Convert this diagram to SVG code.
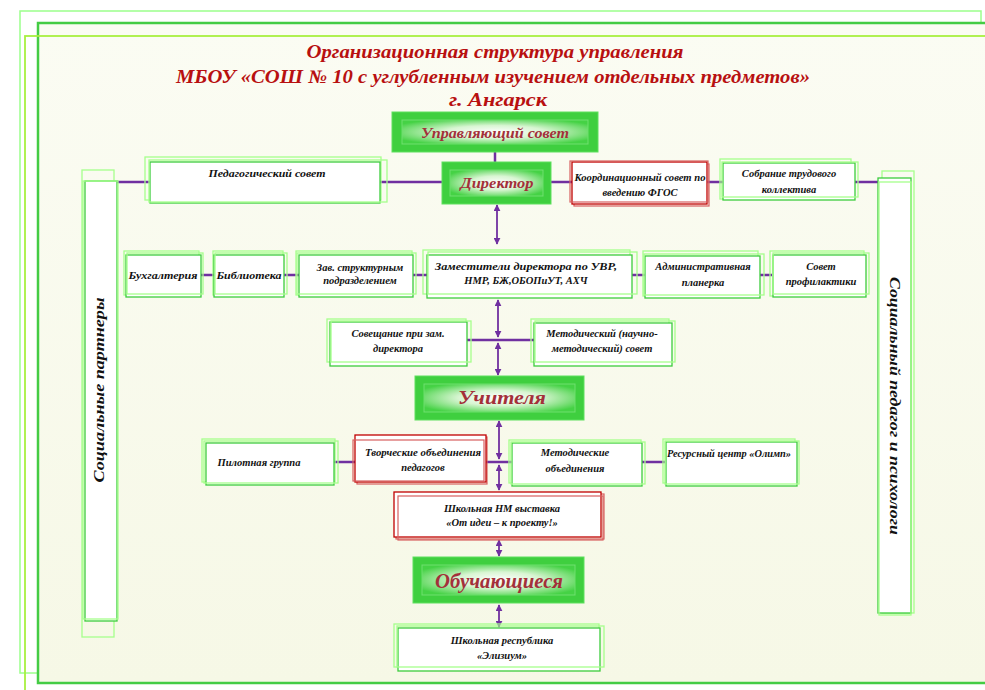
<svg xmlns="http://www.w3.org/2000/svg" width="985" height="690" viewBox="0 0 985 690">
<defs>
<linearGradient id="bg" x1="0" y1="0" x2="0" y2="1">
<stop offset="0" stop-color="#fbfcf3"/>
<stop offset="1" stop-color="#f6f8e6"/>
</linearGradient>
<radialGradient id="glow" cx="0.5" cy="0.5" r="0.6">
<stop offset="0" stop-color="#ffffff"/>
<stop offset="0.45" stop-color="#d8f5d2"/>
<stop offset="1" stop-color="#45d245"/>
</radialGradient>
<marker id="ah" viewBox="0 0 10 10" refX="9" refY="5" markerWidth="7" markerHeight="7" markerUnits="userSpaceOnUse" orient="auto-start-reverse">
<path d="M0,0 L10,5 L0,10 z" fill="#7030a0"/>
</marker>
<style>
.ln{stroke:#7030a0;stroke-width:2.5;fill:none}
.ar{stroke:#7030a0;stroke-width:1.8;fill:none;marker-start:url(#ah);marker-end:url(#ah)}
.box{fill:#ffffff;stroke:#3dcc3d;stroke-width:1.3}
.lt{fill:none;stroke:#a6ff8c;stroke-width:1.3}
.rbox{fill:#ffffff;stroke:#c00000;stroke-width:1.3}
.rlt{fill:none;stroke:#d86060;stroke-width:1.2}
.hd{fill:#3fcf3f;stroke:#5ee05e;stroke-width:1}
.hdi{fill:url(#glow);stroke:#6fe06f;stroke-width:1}
.t{font-family:"Liberation Serif","DejaVu Serif",serif;font-style:italic;font-weight:bold;font-size:10.5px;fill:#111111;text-anchor:middle}
.h{font-family:"Liberation Serif","DejaVu Serif",serif;font-style:italic;font-weight:bold;fill:#a3303a;text-anchor:middle}
.ti{font-family:"Liberation Serif","DejaVu Serif",serif;font-style:italic;font-weight:bold;font-size:19px;fill:#b81010;text-anchor:middle}
.v{font-family:"Liberation Serif","DejaVu Serif",serif;font-style:italic;font-weight:bold;font-size:15px;fill:#111111;text-anchor:middle}
</style>
</defs>

<!-- background frames -->
<rect x="0" y="0" width="985" height="690" fill="#ffffff"/>
<g id="frames">
<rect x="20" y="11" width="961" height="662" fill="none" stroke="#9cff8c" stroke-width="1.5"/>
<rect x="38" y="23" width="960" height="660" fill="url(#bg)" stroke="#44cc44" stroke-width="2.5"/>
<rect x="25" y="36" width="970" height="670" fill="none" stroke="#a8f040" stroke-width="1.8"/>
</g>

<!-- title -->
<g id="title">
<text class="ti" x="495" y="58" textLength="377" lengthAdjust="spacingAndGlyphs">Организационная структура управления</text>
<text class="ti" x="493" y="83" textLength="634" lengthAdjust="spacingAndGlyphs">МБОУ «СОШ № 10 с углубленным изучением отдельных предметов»</text>
<text class="ti" x="498" y="106" textLength="98" lengthAdjust="spacingAndGlyphs">г. Ангарск</text>
</g>

<!-- connectors -->
<g id="connectors">
<line class="ln" x1="495" y1="152" x2="495" y2="162"/>
<line class="ln" x1="117" y1="182" x2="878" y2="182"/>
<line class="ln" x1="201" y1="275" x2="772" y2="275"/>
<line class="ln" x1="467" y1="340" x2="534" y2="340"/>
<line class="ln" x1="334" y1="462" x2="665" y2="462"/>
<line class="ar" x1="497" y1="205" x2="497" y2="244"/>
<line class="ar" x1="498" y1="300" x2="498" y2="337"/>
<line class="ar" x1="498" y1="343" x2="498" y2="375"/>
<line class="ar" x1="499" y1="421" x2="499" y2="459"/>
<line class="ar" x1="499" y1="465" x2="499" y2="490"/>
<line class="ar" x1="499" y1="540" x2="499" y2="556"/>
<line class="ar" x1="499" y1="605" x2="499" y2="627"/>
</g>

<!-- left column -->
<g id="social-partners">
<rect class="lt" x="82" y="170" width="32" height="467"/>
<rect class="box" x="85" y="181" width="32" height="440"/>
<rect class="lt" x="83" y="181" width="35" height="438"/>
<text class="v" transform="translate(104,390) rotate(-90)" textLength="185" lengthAdjust="spacingAndGlyphs">Социальные партнеры</text>
</g>

<!-- right column -->
<g id="social-pedagog">
<rect class="lt" x="882" y="171" width="32" height="442"/>
<rect class="box" x="878" y="178" width="33" height="435"/>
<rect class="lt" x="879" y="182" width="32" height="433"/>
<text class="v" transform="translate(890,406) rotate(90)" font-size="14" textLength="258" lengthAdjust="spacingAndGlyphs">Социальный педагог и психологи</text>
</g>

<g id="upr-sovet">
<rect class="hd" x="392" y="112" width="206" height="40"/>
<rect class="hdi" x="402" y="120" width="186" height="24"/>
<text class="h" x="495" y="138" font-size="15" textLength="148" lengthAdjust="spacingAndGlyphs">Управляющий совет</text>
</g>

<g id="director">
<rect class="hd" x="442" y="162" width="109" height="42"/>
<rect class="hdi" x="450" y="170" width="93" height="26"/>
<text class="h" x="497" y="188" font-size="15" textLength="73" lengthAdjust="spacingAndGlyphs">Директор</text>
</g>

<g id="ped-sovet">
<rect class="lt" x="145" y="157" width="236" height="43"/>
<rect class="box" x="150" y="162" width="230" height="41"/>
<rect class="lt" x="149" y="160" width="238" height="42"/>
<text class="t" x="267" y="177" textLength="117" lengthAdjust="spacingAndGlyphs">Педагогический совет</text>
</g>

<g id="koord-sovet">
<rect class="rlt" x="574" y="164" width="135" height="42"/>
<rect class="rbox" x="572" y="162" width="135" height="42"/>
<rect class="rlt" x="570" y="161" width="138" height="41"/>
<text class="t" x="640" y="181" textLength="131" lengthAdjust="spacingAndGlyphs">Координационный совет по</text>
<text class="t" x="640" y="196">введению ФГОС</text>
</g>

<g id="sobranie">
<rect class="lt" x="720" y="159" width="131" height="40"/>
<rect class="box" x="723" y="163" width="132" height="37"/>
<rect class="lt" x="722" y="162" width="136" height="35"/>
<text class="t" x="789" y="177">Собрание трудового</text>
<text class="t" x="789" y="193">коллектива</text>
</g>

<g id="buh">
<rect class="lt" x="124" y="251" width="75" height="44"/>
<rect class="box" x="126" y="255" width="75" height="42"/>
<rect class="lt" x="127" y="253" width="76" height="41"/>
<text class="t" x="163" y="279" textLength="69" lengthAdjust="spacingAndGlyphs">Бухгалтерия</text>
</g>

<g id="bibl">
<rect class="lt" x="213" y="251" width="70" height="44"/>
<rect class="box" x="214" y="255" width="70" height="42"/>
<rect class="lt" x="215" y="253" width="72" height="41"/>
<text class="t" x="249" y="279" textLength="65" lengthAdjust="spacingAndGlyphs">Библиотека</text>
</g>

<g id="zav">
<rect class="lt" x="296" y="251" width="116" height="44"/>
<rect class="box" x="299" y="255" width="114" height="42"/>
<rect class="lt" x="297" y="253" width="119" height="41"/>
<text class="t" x="360" y="271">Зав. структурным</text>
<text class="t" x="360" y="284">подразделением</text>
</g>

<g id="zam">
<rect class="lt" x="423" y="250" width="207" height="44"/>
<rect class="box" x="427" y="255" width="205" height="43"/>
<rect class="lt" x="428" y="252" width="209" height="42"/>
<text class="t" x="526" y="270" textLength="182" lengthAdjust="spacingAndGlyphs">Заместители директора по УВР,</text>
<text class="t" x="526" y="284">НМР, БЖ,ОБОПиУТ, АХЧ</text>
</g>

<g id="admin">
<rect class="lt" x="643" y="251" width="115" height="45"/>
<rect class="box" x="645" y="256" width="115" height="42"/>
<rect class="lt" x="644" y="254" width="120" height="41"/>
<text class="t" x="703" y="270">Административная</text>
<text class="t" x="703" y="286">планерка</text>
</g>

<g id="profil">
<rect class="lt" x="770" y="251" width="94" height="45"/>
<rect class="box" x="773" y="255" width="93" height="42"/>
<rect class="lt" x="773" y="253" width="96" height="41"/>
<text class="t" x="821" y="270">Совет</text>
<text class="t" x="821" y="285">профилактики</text>
</g>

<g id="soveshanie">
<rect class="lt" x="327" y="319" width="139" height="43"/>
<rect class="box" x="330" y="322" width="137" height="44"/>
<rect class="lt" x="331" y="321" width="140" height="41"/>
<text class="t" x="398" y="337">Совещание при зам.</text>
<text class="t" x="398" y="352">директора</text>
</g>

<g id="metod-sovet">
<rect class="lt" x="531" y="319" width="138" height="43"/>
<rect class="box" x="534" y="323" width="138" height="43"/>
<rect class="lt" x="535" y="321" width="140" height="41"/>
<text class="t" x="602" y="337">Методический (научно-</text>
<text class="t" x="602" y="352">методический) совет</text>
</g>

<g id="uchitelya">
<rect class="hd" x="415" y="376" width="169" height="44"/>
<rect class="hdi" x="424" y="384" width="151" height="28"/>
<text class="h" x="502" y="404" font-size="18" textLength="88" lengthAdjust="spacingAndGlyphs">Учителя</text>
</g>

<g id="pilot">
<rect class="lt" x="202" y="439" width="133" height="43"/>
<rect class="box" x="206" y="443" width="128" height="42"/>
<rect class="lt" x="204" y="441" width="134" height="42"/>
<text class="t" x="259" y="466" textLength="83" lengthAdjust="spacingAndGlyphs">Пилотная группа</text>
</g>

<g id="tvorch">
<rect class="rlt" x="357" y="437" width="130" height="47"/>
<rect class="rbox" x="355" y="435" width="131" height="47"/>
<rect class="rlt" x="353" y="440" width="131" height="41"/>
<text class="t" x="423" y="456" textLength="116" lengthAdjust="spacingAndGlyphs">Творческие объединения</text>
<text class="t" x="423" y="471">педагогов</text>
</g>

<g id="metod-ob">
<rect class="lt" x="509" y="440" width="132" height="43"/>
<rect class="box" x="512" y="443" width="130" height="43"/>
<rect class="lt" x="511" y="442" width="134" height="42"/>
<text class="t" x="575" y="456">Методические</text>
<text class="t" x="575" y="472">объединения</text>
</g>

<g id="resurs">
<rect class="lt" x="663" y="439" width="132" height="44"/>
<rect class="box" x="666" y="442" width="131" height="44"/>
<rect class="lt" x="665" y="441" width="134" height="43"/>
<text class="t" x="729" y="457" textLength="124" lengthAdjust="spacingAndGlyphs">Ресурсный центр «Олимп»</text>
</g>

<g id="vystavka">
<rect class="rlt" x="396" y="494" width="208" height="45"/>
<rect class="rbox" x="394" y="492" width="207" height="45"/>
<rect class="rlt" x="398" y="496" width="205" height="44"/>
<text class="t" x="502" y="512">Школьная НМ выставка</text>
<text class="t" x="502" y="526">«От идеи – к проекту!»</text>
</g>

<g id="obuch">
<rect class="hd" x="413" y="557" width="171" height="46"/>
<rect class="hdi" x="422" y="565" width="153" height="30"/>
<text class="h" x="499" y="588" font-size="20" textLength="128" lengthAdjust="spacingAndGlyphs">Обучающиеся</text>
</g>

<g id="respublika">
<rect class="lt" x="394" y="624" width="205" height="43"/>
<rect class="box" x="398" y="628" width="202" height="43"/>
<rect class="lt" x="397" y="626" width="207" height="41"/>
<text class="t" x="502" y="644">Школьная республика</text>
<text class="t" x="502" y="659">«Элизиум»</text>
</g>
</svg>
